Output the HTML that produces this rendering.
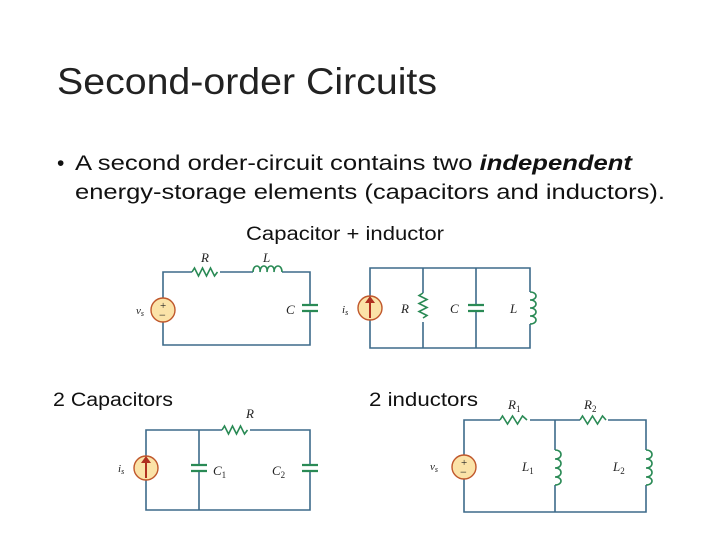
<!DOCTYPE html>
<html><head><meta charset="utf-8"><style>html,body{margin:0;padding:0;background:#fff}svg{display:block}</style></head><body>
<svg width="720" height="540" viewBox="0 0 720 540" xmlns="http://www.w3.org/2000/svg" font-family="Liberation Sans, sans-serif">
<rect width="720" height="540" fill="#fff"/>
<text x="57" y="94" font-size="37" fill="#222" textLength="380" lengthAdjust="spacingAndGlyphs">Second-order Circuits</text>
<text x="57" y="170" font-size="21" fill="#111">•</text>
<text x="75" y="170" font-size="21" fill="#111" textLength="557" lengthAdjust="spacingAndGlyphs">A second order-circuit contains two <tspan font-style="italic" font-weight="bold">independent</tspan></text>
<text x="75" y="199" font-size="21" fill="#111" textLength="590" lengthAdjust="spacingAndGlyphs">energy-storage elements (capacitors and inductors).</text>
<text x="246" y="240" font-size="19" fill="#111" textLength="198" lengthAdjust="spacingAndGlyphs">Capacitor + inductor</text>
<text x="53" y="406" font-size="19" fill="#111" textLength="120" lengthAdjust="spacingAndGlyphs">2 Capacitors</text>
<text x="369" y="406" font-size="19" fill="#111" textLength="109" lengthAdjust="spacingAndGlyphs">2 inductors</text>

<g fill="none" stroke="#3d6a8a" stroke-width="1.6">
<!-- circuit 1 -->
<path d="M163 298V272H192M220 272H253M282 272H310V305M310 312V345H163V322"/>
<!-- circuit 2 -->
<path d="M370 296V268H530V292M530 324V348H370V320M423 268V293M423 322V348M476 268V305M476 311V348"/>
<!-- circuit 3 -->
<path d="M146 456V430H222M250 430H310V465M310 471V510H146V480M199 430V465M199 471V510"/>
<!-- circuit 4 -->
<path d="M464 455V420H500M530 420H580M608 420H646V450M646 485V512H464V479M555 420V450M555 485V512"/>
</g>
<g fill="none" stroke="#2a8a55" stroke-width="1.6">
<path d="M192 272l2.5-4 4 8 4-8 4 8 4-8 4 8 3-4"/>
<path d="M253 272c0-8 8-8 7 0c0-8 8-8 7 0c0-8 8-8 7 0c0-8 8-8 8 0"/>
<path d="M302 305h16M302 311h16" stroke-width="2.2"/>
<path d="M423 293l-4 2.5 8 4-8 4 8 4-8 4 8 4-4 2.5"/>
<path d="M468 305h16M468 311h16" stroke-width="2.2"/>
<path d="M530 292c8 0 8 8 0 8c8 0 8 8 0 8c8 0 8 8 0 8c8 0 8 8 0 8"/>
<path d="M222 430l2.5-4 4 8 4-8 4 8 4-8 4 8 3-4"/>
<path d="M191 465h16M191 471h16M302 465h16M302 471h16" stroke-width="2.2"/>
<path d="M500 420l2.5-4 5 8 5-8 5 8 5-8 4.5 4"/>
<path d="M580 420l2.5-4 5 8 5-8 5 8 5-8 3.5 4"/>
<path d="M555 450c8 0 8 9 0 9c8 0 8 9 0 9c8 0 8 9 0 9c8 0 8 8 0 8"/>
<path d="M646 450c8 0 8 9 0 9c8 0 8 9 0 9c8 0 8 9 0 9c8 0 8 8 0 8"/>
</g>
<g fill="#fbe3a8" stroke="#c0582c" stroke-width="1.4">
<circle cx="163" cy="310" r="12"/><circle cx="370" cy="308" r="12"/><circle cx="146" cy="468" r="12"/><circle cx="464" cy="467" r="12"/>
</g>
<g stroke="#b03020" stroke-width="2" fill="#b03020">
<path d="M370 318V302M146 478V462" /><path d="M365 303l5-7 5 7zM141 463l5-7 5 7z" stroke="none"/>
</g>
<g font-family="Liberation Serif, serif" fill="#222" font-size="12">
<text x="160" y="309" font-size="11">+</text><text x="159" y="319">−</text>
<text x="461" y="466" font-size="11">+</text><text x="460" y="476">−</text>
</g>
<g font-family="Liberation Serif, serif" font-style="italic" fill="#222" font-size="13">
<text x="201" y="262">R</text><text x="263" y="262">L</text><text x="286" y="314">C</text><text x="136" y="314" font-size="11">v<tspan font-size="8" dy="2">s</tspan></text>
<text x="342" y="313" font-size="11">i<tspan font-size="8" dy="2">s</tspan></text><text x="401" y="313">R</text><text x="450" y="313">C</text><text x="510" y="313">L</text>
<text x="246" y="418">R</text><text x="118" y="472" font-size="11">i<tspan font-size="8" dy="2">s</tspan></text>
<text x="213" y="475">C<tspan font-size="9" font-style="normal" dy="3">1</tspan></text>
<text x="272" y="475">C<tspan font-size="9" font-style="normal" dy="3">2</tspan></text>
<text x="508" y="409">R<tspan font-size="9" font-style="normal" dy="3">1</tspan></text>
<text x="584" y="409">R<tspan font-size="9" font-style="normal" dy="3">2</tspan></text>
<text x="430" y="470" font-size="11">v<tspan font-size="8" dy="2">s</tspan></text>
<text x="522" y="471">L<tspan font-size="9" font-style="normal" dy="3">1</tspan></text>
<text x="613" y="471">L<tspan font-size="9" font-style="normal" dy="3">2</tspan></text>
</g>
</svg>
</body></html>
